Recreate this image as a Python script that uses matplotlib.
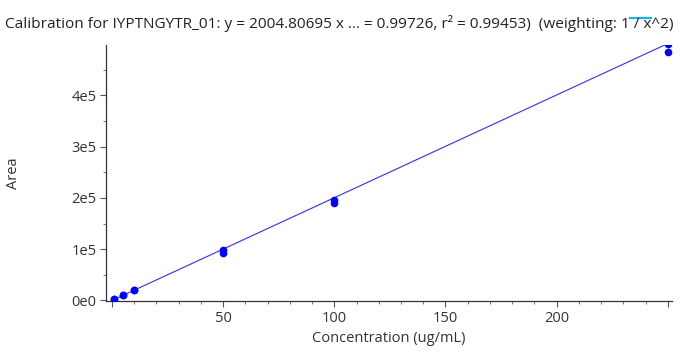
import numpy as np
import matplotlib.pyplot as plt
from matplotlib.ticker import MultipleLocator, FuncFormatter

# --- datos de calibracion ---
concentracion = [1, 1, 5, 5, 10, 10, 50, 50, 100, 100, 250, 250]
area = [1900, 2100, 9800, 10200, 20500, 20000, 98500, 93000, 196500, 191000, 500500, 484500]
pendiente = 2004.80695
intercepto = 0.0
titulo = "Calibration for IYPTNGYTR_01: y = 2004.80695 x ... = 0.99726, r\u00b2 = 0.99453)  (weighting: 1 / x^2)"

plt.rcParams['font.family'] = ['Open Sans', 'DejaVu Sans']

fig = plt.figure(figsize=(6.93, 3.57), dpi=100)
ax = fig.add_axes([0.153, 0.157, 0.817, 0.717])

# recta de ajuste
xs = np.array([0, 252])
ax.plot(xs, pendiente * xs + intercepto, color='#3030ff', lw=0.8, zorder=2)
# puntos
ax.plot(concentracion, area, 'o', color='#0000ff', ms=5.5, mec='none', zorder=3)

ax.set_xlim(-2.7, 252)
ax.set_ylim(-1000, 498500)

ax.xaxis.set_major_locator(MultipleLocator(50))
ax.xaxis.set_minor_locator(MultipleLocator(10))
ax.yaxis.set_major_locator(MultipleLocator(100000))
ax.yaxis.set_minor_locator(MultipleLocator(50000))

def fmt_x(v, pos):
    if v <= 0 or v >= 250:
        return ""
    return "%d" % v

def fmt_y(v, pos):
    if v == 0:
        return "0e0"
    if v >= 500000:
        return ""
    return "%de5" % round(v / 100000)

ax.xaxis.set_major_formatter(FuncFormatter(fmt_x))
ax.yaxis.set_major_formatter(FuncFormatter(fmt_y))

for lado in ['top', 'right']:
    ax.spines[lado].set_visible(False)
for lado in ['left', 'bottom']:
    ax.spines[lado].set_color('#333333')
    ax.spines[lado].set_linewidth(0.9)

ax.tick_params(which='major', length=4, width=0.8, color='#555555', labelsize=10.5, labelcolor='#333333', pad=3)
ax.tick_params(which='minor', length=2, width=0.7, color='#777777')

ax.set_xlabel("Concentration (ug/mL)", fontsize=10.5, color='#333333', labelpad=4)
ax.set_ylabel("Area", fontsize=10.5, color='#333333', labelpad=36)

y_tit = 1 - 23.5 / 357
t = fig.text(0.007, y_tit, titulo, fontsize=11.1, color='#222222', ha='left', va='center')

# subrayado cian sobre "/ x" (se mide el texto para ubicarlo)
r = fig.canvas.get_renderer()
idx = titulo.index("1 / x")
pre = fig.text(0.007, y_tit, titulo[:idx + 1], fontsize=11.1, ha='left', va='center')
hasta = fig.text(0.007, y_tit, titulo[:idx + 5], fontsize=11.1, ha='left', va='center')
x0 = pre.get_window_extent(r).x1
x1 = hasta.get_window_extent(r).x1
pre.remove()
hasta.remove()
yl = 1 - 17.7 / 357
fig.add_artist(plt.Line2D([x0 / 693, x1 / 693], [yl, yl],
                          color='#1ab0e0', lw=1.6, transform=fig.transFigure))

fig.savefig("out.png", dpi=100)
